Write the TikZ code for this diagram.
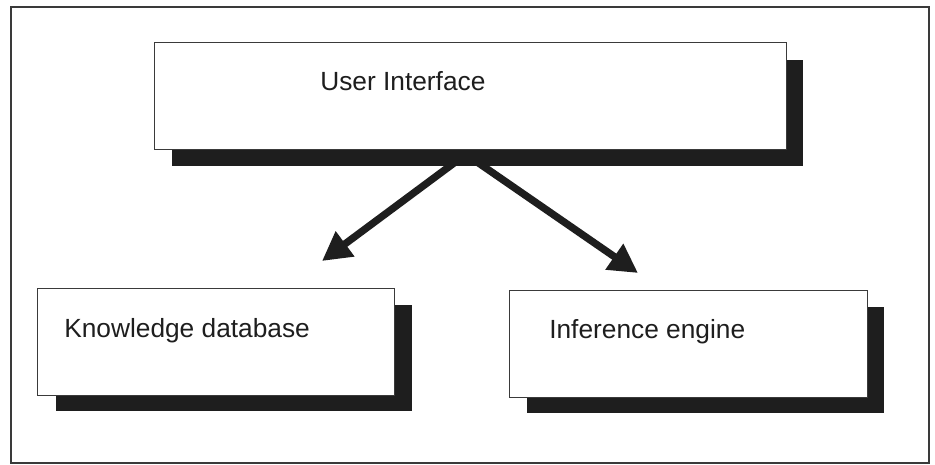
\documentclass[tikz,border=0pt]{standalone}
\usepackage{fontspec}
\setmainfont{Liberation Sans}
\usepackage{tikz}
\usetikzlibrary{arrows.meta, shadows}
\definecolor{inkgray}{HTML}{1E1E1E}
\definecolor{edgegray}{HTML}{3A3A3A}

\begin{document}
\begin{tikzpicture}[
    x=0.025cm, y=-0.025cm,
    module/.style={rectangle, draw=edgegray, line width=0.7pt, fill=white,
                   inner sep=0pt, minimum height=2.65cm},
    shade/.style 2 args={drop shadow={shadow xshift=#1, shadow yshift=#2,
                         opacity=1, fill=inkgray}},
    caption/.style={anchor=base west, inner sep=0pt,
                    font=\fontsize{18.7pt}{22pt}\selectfont, text=inkgray},
    arrow/.style={-{Triangle[length=0.72cm, width=0.74cm]}, line width=5.2pt,
                  color=inkgray},
  ]
  \useasboundingbox (0,0) rectangle (935,465);

  % Outer frame
  \draw[line width=0.9pt, edgegray] (11,7) rectangle (929,463);

  % Top box
  \node[module, shade={0.425cm}{-0.43cm}, minimum width=15.78cm]
        (ui) at (470.5,96) {};
  \node[caption] (ui-text) at (320,91) {User Interface};

  % Bottom boxes
  \node[module, shade={0.44cm}{-0.4cm}, minimum width=8.9cm]
        (kb) at (216,342) {};
  \node[caption] (kb-text) at (64,338) {Knowledge database};

  \node[module, shade={0.425cm}{-0.4cm}, minimum width=8.925cm]
        (ie) at (688.5,344) {};
  \node[caption] (ie-text) at (549,339) {Inference engine};

  % Arrows
  \coordinate (ui-out-l) at (460.8,158);
  \coordinate (ui-out-r) at (471.3,158);
  \coordinate (kb-in) at (322,261);
  \coordinate (ie-in) at (638,273);
  \draw[arrow] (ui-out-l) -- (kb-in);
  \draw[arrow] (ui-out-r) -- (ie-in);

\end{tikzpicture}
\end{document}
